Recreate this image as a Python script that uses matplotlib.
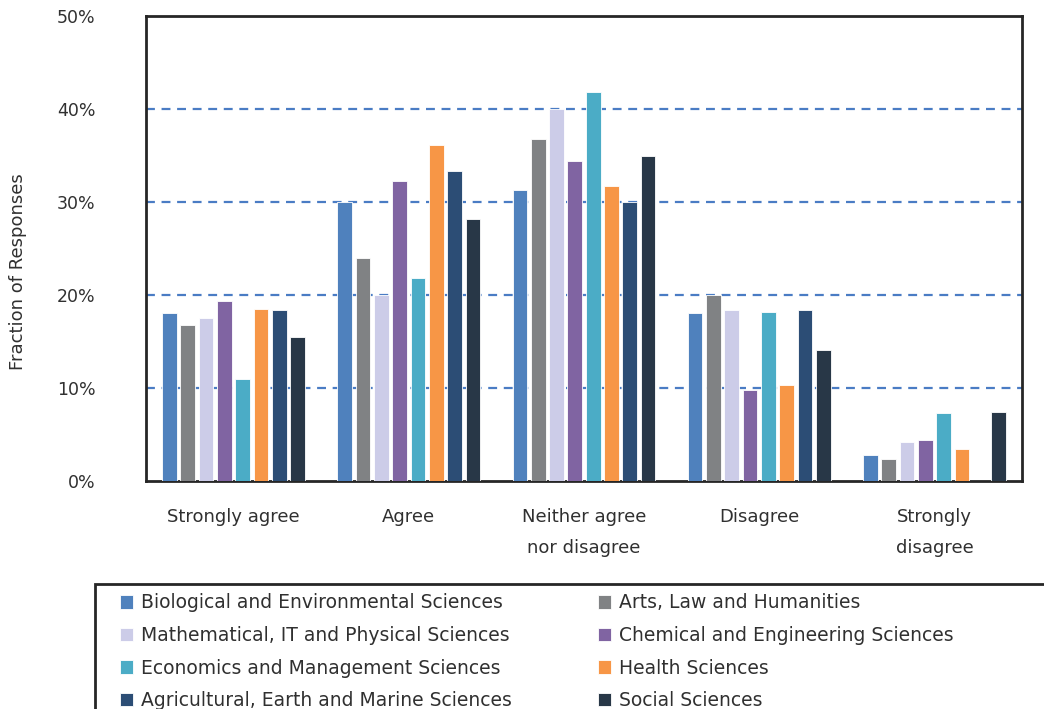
import matplotlib.pyplot as plt
from matplotlib.patches import Rectangle
from matplotlib.ticker import FuncFormatter
import numpy as np

categories = ["Strongly agree", "Agree", "Neither agree\nnor disagree", "Disagree", "Strongly\ndisagree"]

series_names = [
    "Biological and Environmental Sciences",
    "Arts, Law and Humanities",
    "Mathematical, IT and Physical Sciences",
    "Chemical and Engineering Sciences",
    "Economics and Management Sciences",
    "Health Sciences",
    "Agricultural, Earth and Marine Sciences",
    "Social Sciences",
]

bio = [18.1, 30.0, 31.3, 18.1, 2.8]
arts = [16.8, 24.0, 36.8, 20.0, 2.4]
maths = [17.5, 20.0, 40.0, 18.4, 4.2]
chem = [19.4, 32.3, 34.4, 9.75, 4.4]
econ = [11.0, 21.8, 41.8, 18.2, 7.3]
health = [18.5, 36.1, 31.7, 10.3, 3.4]
agri = [18.4, 33.3, 30.0, 18.4, 0.0]
social = [15.5, 28.2, 34.9, 14.1, 7.4]

values = [bio, arts, maths, chem, econ, health, agri, social]
colors = ["#4F81BD", "#808284", "#CCCCE8", "#8064A2", "#4BACC6", "#F79646", "#2C4D75", "#283747"]

plt.rcParams["font.family"] = ["DejaVu Sans"]
TXT = "#303030"

fig = plt.figure(figsize=(10.44, 7.09), dpi=100)
ax = fig.add_axes([146 / 1044, 1 - 481 / 709, 876 / 1044, 465 / 709])

x = np.arange(len(categories))
pitch = 0.1045
width = 0.084
handles = []
for i, (vals, col) in enumerate(zip(values, colors)):
    offs = (i - 3.5) * pitch
    b = ax.bar(x + offs, vals, width, color=col, edgecolor="white", linewidth=0.6, zorder=3)
    handles.append(b)

ax.set_xlim(-0.5, len(categories) - 0.5)
ax.set_ylim(0, 50)
ax.set_yticks([0, 10, 20, 30, 40, 50])
ax.yaxis.set_major_formatter(FuncFormatter(lambda v, p: f"{v:.0f}%"))
for yv in [10, 20, 30, 40]:
    ax.axhline(yv, color="#4A7CC4", linestyle=(0, (4, 3)), linewidth=1.6, zorder=1)

# pads are in points (100 dpi -> 0.72 pt per px)
ax.set_xticks(x)
ax.set_xticklabels(categories, fontsize=13, color=TXT, linespacing=1.9, va="top")
ax.tick_params(axis="x", length=0, pad=19.5)
ax.tick_params(axis="y", length=0, pad=36.5, labelsize=12.5, labelcolor=TXT)
ax.set_ylabel("Fraction of Responses", fontsize=13, color=TXT)
ax.yaxis.set_label_coords(-146 / 876 + 27 / 876, 0.45)

for s in ax.spines.values():
    s.set_color("#262626")
    s.set_linewidth(2)

# legend frame, runs off the bottom and right edge like the original
fig.patches.append(Rectangle((95 / 1044, -0.05), 1.0, 1 - 584 / 709 + 0.05,
                             transform=fig.transFigure, fill=False,
                             edgecolor="#262626", linewidth=2))

left = [handles[i] for i in (0, 2, 4, 6)]
right = [handles[i] for i in (1, 3, 5, 7)]
kw = dict(frameon=False, fontsize=13.5, handlelength=0.7, handleheight=0.7,
          handletextpad=0.45, labelspacing=0.72, loc="upper left", borderaxespad=0)
leg1 = fig.legend(left, [series_names[i] for i in (0, 2, 4, 6)],
                  bbox_to_anchor=(112 / 1044, 1 - 586 / 709), **kw)
leg2 = fig.legend(right, [series_names[i] for i in (1, 3, 5, 7)],
                  bbox_to_anchor=(590 / 1044, 1 - 586 / 709), **kw)
for leg in (leg1, leg2):
    for t in leg.get_texts():
        t.set_color(TXT)

fig.savefig("out.png", dpi=100)
